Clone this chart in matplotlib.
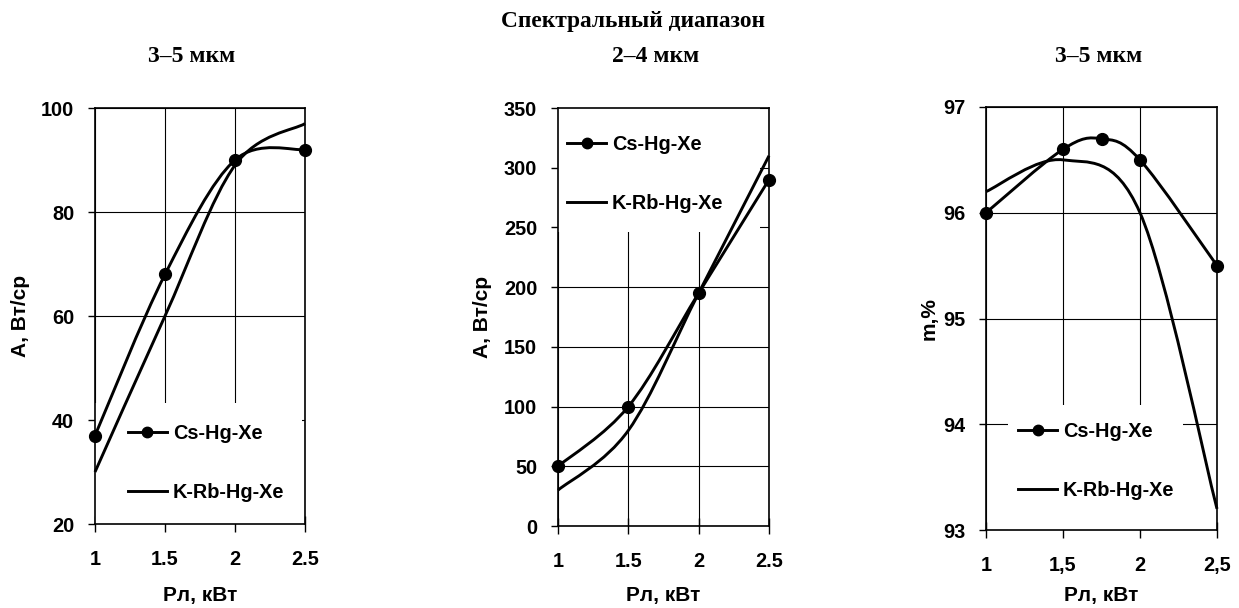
# -*- coding: utf-8 -*-
import numpy as np
import matplotlib
matplotlib.use('Agg')
import matplotlib.pyplot as plt
from matplotlib.path import Path
from matplotlib.patches import PathPatch, Rectangle
from matplotlib.lines import Line2D

# data
p_lamp = [1, 1.5, 2, 2.5]
p_lamp_cs3 = [1, 1.5, 1.75, 2, 2.5]

a35_cs = [37, 68, 90, 92]
a35_krb = [30, 60, 89, 97]

a24_cs = [50, 100, 195, 290]
a24_krb = [30, 80, 195, 310]

eff_cs = [96.0, 96.6, 96.7, 96.5, 95.5]
eff_krb = [96.2, 96.5, 96.0, 93.2]

names = ['Cs-Hg-Xe', 'K-Rb-Hg-Xe']
subtitles = ['3–5 мкм', '2–4 мкм', '3–5 мкм']
xticks_dot = ['1', '1.5', '2', '2.5']
xticks_comma = ['1', '1,5', '2', '2,5']

sans = 'Liberation Sans'
serif = 'Liberation Serif'
fs = 14.3


def smooth_path(x, y):
    # Excel-like smoothed line: Catmull-Rom segments as cubic Beziers
    pts = np.column_stack([x, y]).astype(float)
    n = len(pts)
    verts = [pts[0]]
    codes = [Path.MOVETO]
    for i in range(n - 1):
        p0 = pts[max(i - 1, 0)]
        p1 = pts[i]
        p2 = pts[i + 1]
        p3 = pts[min(i + 2, n - 1)]
        verts += [p1 + (p2 - p0) / 6, p2 - (p3 - p1) / 6, p2]
        codes += [Path.CURVE4] * 3
    return Path(verts, codes)


def draw_panel(ax, x_cs, cs, x_krb, krb, ylim, yticks, xlabels, ylabel,
               ylab_x, xlab_y, bg, leg_anchor):
    ax.set_axisbelow(True)
    ax.grid(True, color='black', lw=0.8)
    ax.add_patch(Rectangle(bg[:2], bg[2], bg[3], transform=ax.transAxes,
                           facecolor='white', edgecolor='none', zorder=1))
    for xx, yy in ((x_cs, cs), (x_krb, krb)):
        ax.add_patch(PathPatch(smooth_path(xx, yy), facecolor='none',
                               edgecolor='black', lw=2.1, zorder=3,
                               clip_on=False, capstyle='butt'))
    ax.plot(x_cs, cs, 'o', color='black', ms=8.5, zorder=4, clip_on=False)

    ax.set_xlim(1, 2.5)
    ax.set_ylim(*ylim)
    ax.set_xticks([1, 1.5, 2, 2.5])
    ax.set_xticklabels(xlabels)
    ax.set_yticks(yticks)
    ax.tick_params(axis='x', direction='inout', length=12, width=1, pad=13)
    ax.tick_params(axis='y', direction='out', length=5, width=1, pad=10)
    for lab in ax.get_xticklabels() + ax.get_yticklabels():
        lab.set_fontfamily(sans)
        lab.set_fontweight('bold')
        lab.set_fontsize(fs)
    for sp in ax.spines.values():
        sp.set_linewidth(1.2)
        sp.set_zorder(2.5)

    ax.text(0.5, xlab_y, 'Рл, кВт', transform=ax.transAxes, ha='center',
            va='center', fontfamily=sans, fontweight='bold', fontsize=15)
    ax.text(ylab_x, 0.5, ylabel, transform=ax.transAxes, ha='center',
            va='center', rotation=90, fontfamily=sans, fontweight='bold',
            fontsize=15)

    handles = [Line2D([], [], color='black', lw=2.1, marker='o', ms=7.5),
               Line2D([], [], color='black', lw=2.1)]
    leg = ax.legend(handles, names, loc='upper left', bbox_to_anchor=leg_anchor,
                    frameon=False, borderpad=0, borderaxespad=0,
                    handlelength=1.96, handletextpad=0.3, labelspacing=2.0,
                    prop={'family': sans, 'weight': 'bold', 'size': fs})
    leg.set_zorder(5)


fig = plt.figure(figsize=(12.39, 6.08), dpi=100)

ax1 = fig.add_axes([95 / 1239, 1 - 524 / 608, 210 / 1239, 416 / 608])
draw_panel(ax1, p_lamp, a35_cs, p_lamp, a35_krb, (20, 100),
           [20, 40, 60, 80, 100], xticks_dot, 'А, Вт/ср', -0.357, -0.173,
           (0, 0, 0.986, 0.291), (0.157, 0.240))

ax2 = fig.add_axes([558 / 1239, 1 - 526 / 608, 211 / 1239, 418 / 608])
draw_panel(ax2, p_lamp, a24_cs, p_lamp, a24_krb, (0, 350),
           list(range(0, 351, 50)), xticks_dot, 'А, Вт/ср', -0.36, -0.167,
           (0, 0.703, 0.957, 0.297), (0.043, 0.935))

ax3 = fig.add_axes([986 / 1239, 1 - 530 / 608, 231 / 1239, 423 / 608])
draw_panel(ax3, p_lamp_cs3, eff_cs, p_lamp, eff_krb, (93, 97),
           [93, 94, 95, 96, 97], xticks_comma, 'm,%', -0.247, -0.156,
           (0.095, 0, 0.758, 0.296), (0.139, 0.255))

fig.text(633 / 1239, 1 - 22 / 608, 'Спектральный диапазон', ha='center',
         va='center', fontfamily=serif, fontweight='bold', fontsize=16.8)
for xc, t in zip([192, 656, 1099], subtitles):
    fig.text(xc / 1239, 1 - 57 / 608, t, ha='center', va='center',
             fontfamily=serif, fontweight='bold', fontsize=17)

fig.savefig('out.png', dpi=100)
